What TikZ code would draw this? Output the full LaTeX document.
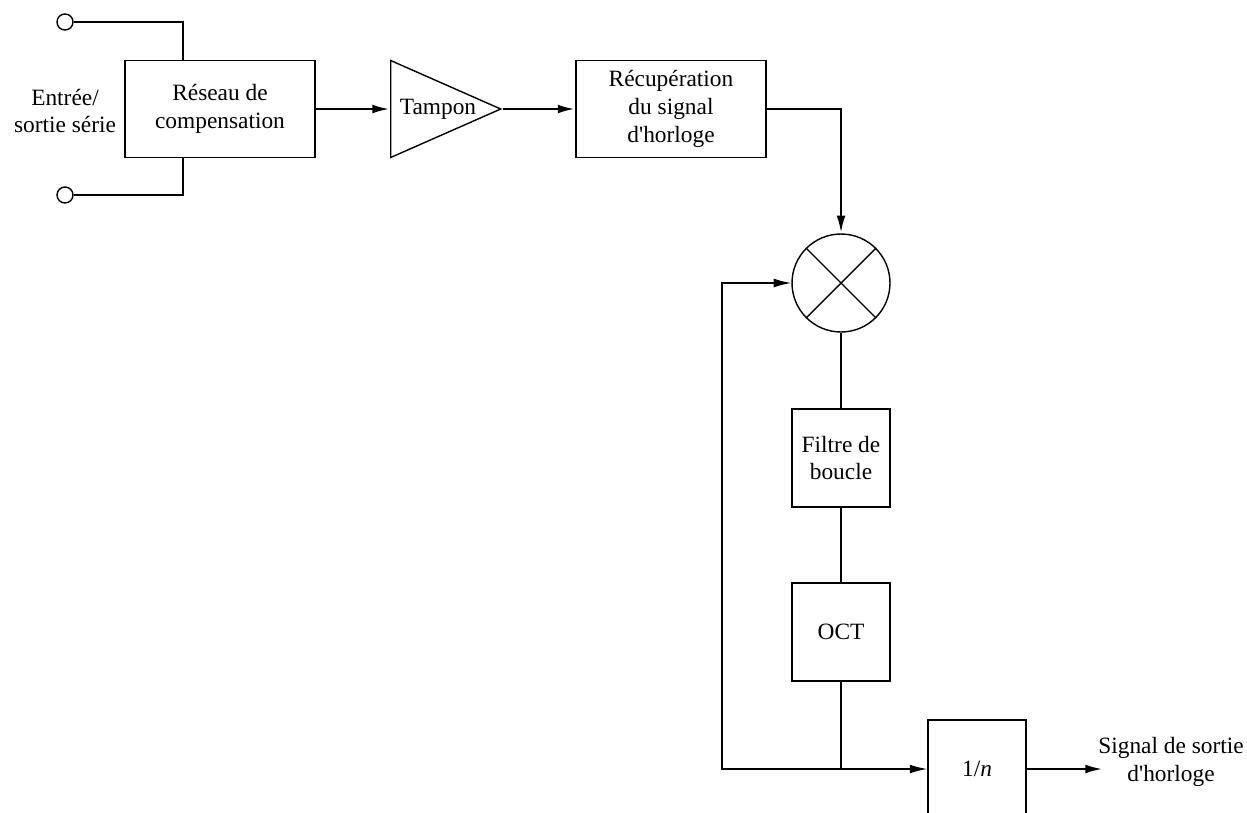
\documentclass[tikz,border=0pt]{standalone}
\usepackage{fontspec}
\setmainfont{Liberation Serif}
\usepackage{tikz}
\usetikzlibrary{shapes.geometric,arrows.meta,calc}
\tikzstyle{wire} = [draw, line width=0.8pt]
\tikzstyle{line} = [draw, line width=0.8pt, -{Latex[length=10pt,width=5pt]}]
\tikzstyle{bus} = [draw, line width=1.5pt, -{Latex[length=10pt,width=5pt]}]
\tikzstyle{block} = [rectangle, draw, line width=0.8pt, align=center, inner sep=0pt]
\tikzstyle{square} = [block, minimum width=1.96cm, minimum height=1.96cm]
\tikzstyle{wide} = [block, minimum width=3.8cm, minimum height=1.95cm]
\tikzstyle{term} = [circle, draw, line width=0.8pt, minimum size=0.32cm, inner sep=0pt]

\begin{document}
\begin{tikzpicture}[x=0.02cm, y=-0.02cm, font=\fontsize{13.3}{15.8}\selectfont]

\useasboundingbox (0,0) rectangle (1247,812);

\node [term] (t1) at (65,22) {};
\node [term] (t2) at (65,195) {};
\node [align=center] (io) at (65,111) {Entrée/\\sortie série};

\node [wide] (comp) at (220,109) {Réseau de\\compensation};

\node [isosceles triangle, draw, line width=0.8pt, isosceles triangle stretches,
       minimum width=1.94cm, minimum height=2.2cm, inner sep=0pt,
       anchor=lower side] (tampon) at (390,109) {};
\node (tamptxt) at (438,109) {Tampon};

\node [wide] (recup) at (671,109) {Récupération\\du signal\\d\textquotesingle horloge};

\node [circle, draw, line width=0.8pt, minimum size=1.96cm] (mult) at (841,283) {};
\draw [line width=0.8pt] (mult.north west) -- (mult.south east);
\draw [line width=0.8pt] (mult.north east) -- (mult.south west);

\node [square] (filtre) at (841,458) {Filtre de\\boucle};
\node [square] (oct) at (841,632) {OCT};
\node [square] (div) at (977,769) {1/\textit{n}};

\node [align=center] (sortie) at (1171,762) {Signal de sortie\\d\textquotesingle horloge};

\coordinate (junc) at (oct.south |- div.west);
\coordinate (fb) at (722,769);
\coordinate (outend) at (1103,769);

\path [wire] (t1) -| ([xshift=-0.74cm]comp.north);
\path [wire] (t2) -| ([xshift=-0.74cm]comp.south);

\path [bus] (comp.east) -- (tampon.lower side);
\path [bus] (tampon.apex) -- (recup.west);
\path [bus] (recup.east) -| (mult.north);

\path [wire] (mult.south) -- (filtre.north);
\path [wire] (filtre.south) -- (oct.north);
\path [wire] (oct.south) -- (junc);
\path [line] (junc) -- (div.west);
\path [line] (junc) -- (fb) |- (mult.west);

\path [bus] (div.east) -- (outend);

\end{tikzpicture}
\end{document}
